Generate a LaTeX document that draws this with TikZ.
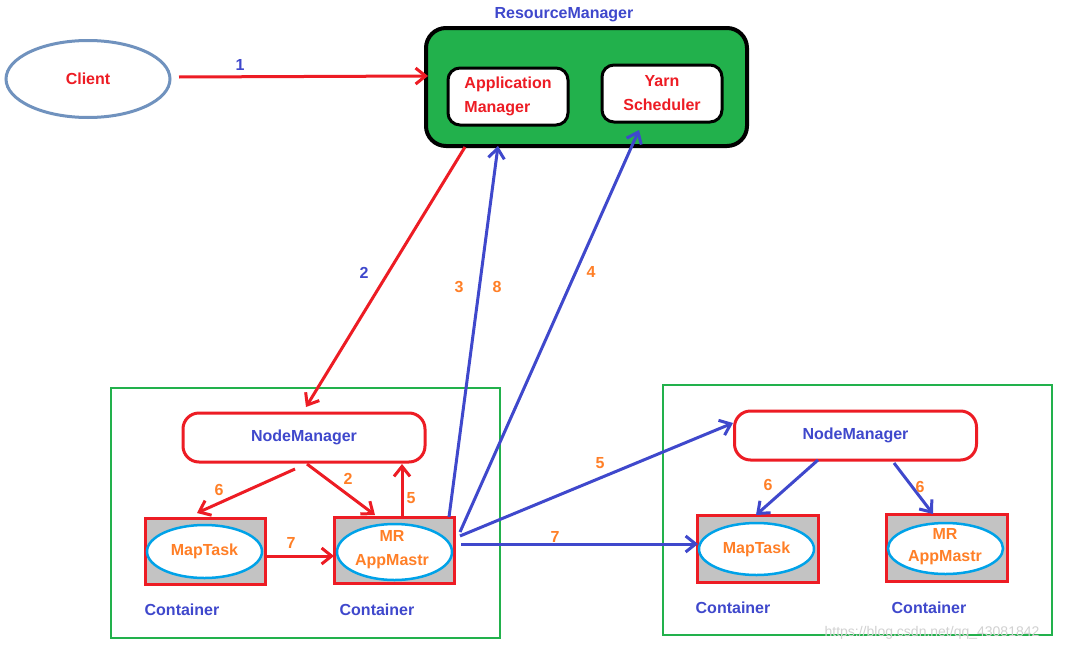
\documentclass[tikz,border=0pt]{standalone}
\usepackage{fontspec}
\setmainfont{Liberation Sans}
\usetikzlibrary{arrows.meta,shapes.geometric}
\definecolor{cred}{HTML}{ED1C24}
\definecolor{cblue}{HTML}{3F48CC}
\definecolor{corange}{HTML}{FF7F27}
\definecolor{cgreen}{HTML}{22B14C}
\definecolor{cgray}{HTML}{C3C3C3}
\definecolor{ccyan}{HTML}{00A2E8}
\definecolor{csteel}{HTML}{7092BE}
\begin{document}
\begin{tikzpicture}[x=1pt,y=-1pt,
  every node/.style={font=\bfseries\fontsize{16}{24}\selectfont, inner sep=0pt},
  tipstyle/.style={-{Straight Barb[length=10pt,width=16pt]}},
  redarrow/.style={draw=cred,line width=3pt,tipstyle},
  bluearrow/.style={draw=cblue,line width=3pt,tipstyle},
  numo/.style={text=corange},
  numb/.style={text=cblue},
  outerbox/.style={draw=cgreen,line width=2.5pt,minimum width=389pt,minimum height=250pt},
  nmbox/.style={draw=cred,line width=3pt,rounded corners=16pt,fill=white,minimum width=242pt,minimum height=49pt,text=cblue},
  contbox/.style={draw=cred,line width=3pt,fill=cgray,minimum width=120pt,minimum height=66pt},
  task/.style={ellipse,draw=ccyan,line width=2.5pt,fill=white,minimum width=115pt,minimum height=52pt,text=corange,align=center},
  contlabel/.style={text=cblue},
  innerbox/.style={draw=black,line width=3pt,fill=white,rounded corners=12pt,minimum width=120pt,minimum height=57pt,text=cred}
]
\useasboundingbox[fill=white] (0,0) rectangle (1065,653);

% Client
\node[ellipse,draw=csteel,line width=3pt,minimum width=164pt,minimum height=77pt,text=cred] (client) at (88,79) {Client};

% ResourceManager
\node[text=cblue] (rmlabel) at (564,15) {ResourceManager};
\node[draw=black,line width=4pt,fill=cgreen,rounded corners=20pt,minimum width=321pt,minimum height=118pt] (rm) at (586.5,87) {};
\node[innerbox,align=left] (am) at (508,96.5) {Application\\Manager};
\node[innerbox,align=center] (ys) at (662,93.5) {Yarn\\Scheduler};

% outer green boxes
\node[outerbox] (lbox) at (305.5,513) {};
\node[outerbox] (rbox) at (857.5,510) {};

% left side
\node[nmbox] (lnm) at (304,437.5) {NodeManager};
\node[contbox] (lc1) at (205,551) {};
\node[task,minimum height=53pt] (lmap) at (204.5,551.5) {MapTask};
\node[contbox] (lc2) at (394.5,550) {};
\node[task,minimum height=56pt] (lmr) at (394.5,552) {};
\node[text=corange,align=center] (lmrtext) at (392,550) {MR\\AppMastr};
\node[contlabel] (lcl1) at (182,610) {Container};
\node[contlabel] (lcl2) at (377,610) {Container};

% right side
\node[nmbox] (rnm) at (855.5,435.5) {NodeManager};
\node[contbox,minimum width=121pt,minimum height=67pt] (rc1) at (757.5,548.5) {};
\node[task] (rmap) at (756.5,549) {MapTask};
\node[contbox,minimum width=121pt,minimum height=67pt] (rc2) at (946.5,547.5) {};
\node[task,minimum height=51pt] (rmr) at (945.5,548.5) {};
\node[text=corange,align=center,font=\bfseries\fontsize{16}{22}\selectfont] (rmrtext) at (945,547) {MR\\AppMastr};
\node[contlabel] (rcl1) at (733,608) {Container};
\node[contlabel] (rcl2) at (929,608) {Container};

% endpoints
\coordinate (p1s) at (179,77);
\coordinate (p1e) at (428,76);
\coordinate (p2s) at (465,147);
\coordinate (p2e) at (306,407);
\coordinate (p38s) at (449,517);
\coordinate (p38e) at (498,146);
\coordinate (p4s) at (460,532);
\coordinate (p4e) at (639,130);
\coordinate (l6s) at (295,469);
\coordinate (l6e) at (197,513);
\coordinate (l2s) at (307,464);
\coordinate (l2e) at (375,515);
\coordinate (l5s) at (402,517);
\coordinate (l5e) at (402,464);
\coordinate (l7s) at (267,556);
\coordinate (l7e) at (334,556);
\coordinate (r5s) at (460,536);
\coordinate (r5e) at (733,423);
\coordinate (r7s) at (461,544);
\coordinate (r7e) at (698,544);
\coordinate (r6as) at (818,460);
\coordinate (r6ae) at (756,515);
\coordinate (r6bs) at (894,463);
\coordinate (r6be) at (933,514);

% connectors
\draw[redarrow] (p1s) -- (p1e);
\node[numb] (n1) at (240,65) {1};
\draw[redarrow] (p2s) -- (p2e);
\node[numb] (n2) at (364,273) {2};
\draw[bluearrow] (p38s) -- (p38e);
\node[numo] (n3) at (459,287) {3};
\node[numo] (n8) at (497,287) {8};
\draw[bluearrow] (p4s) -- (p4e);
\node[numo] (n4) at (591,272) {4};

\draw[redarrow] (l6s) -- (l6e);
\node[numo] (nl6) at (219,490) {6};
\draw[redarrow] (l2s) -- (l2e);
\node[numo] (nl2) at (348,479) {2};
\draw[redarrow] (l5s) -- (l5e);
\node[numo] (nl5) at (411,498) {5};
\draw[redarrow] (l7s) -- (l7e);
\node[numo] (nl7) at (291,543) {7};

\draw[bluearrow] (r5s) -- (r5e);
\node[numo] (nr5) at (600,463) {5};
\draw[bluearrow] (r7s) -- (r7e);
\node[numo] (nr7) at (555,537) {7};
\draw[bluearrow] (r6as) -- (r6ae);
\node[numo] (nr6a) at (768,485) {6};
\draw[bluearrow] (r6bs) -- (r6be);
\node[numo] (nr6b) at (920,487) {6};

% watermark
\node[text=black!18,font=\fontsize{14}{16}\selectfont] (wm) at (932,633) {https://blog.csdn.net/qq\_43081842};
\end{tikzpicture}
\end{document}
